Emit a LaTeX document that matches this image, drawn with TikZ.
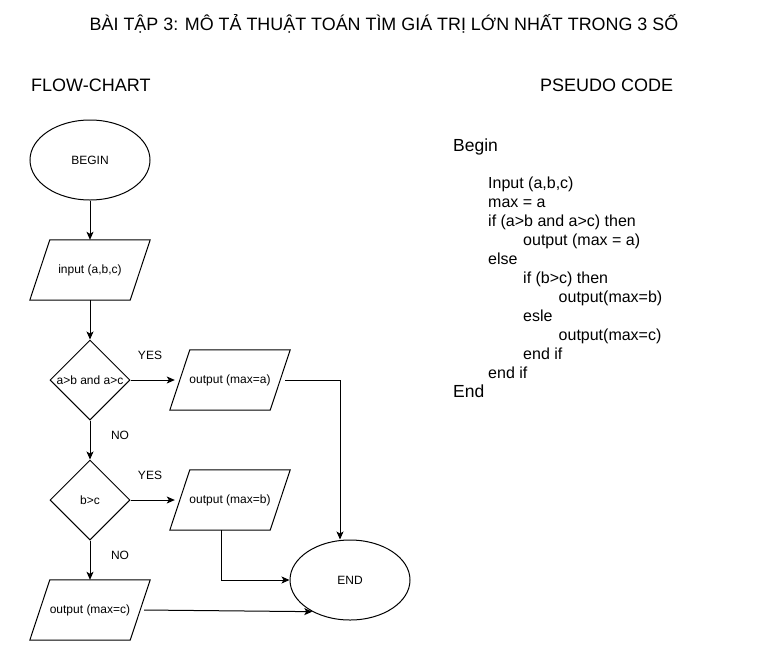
\documentclass[tikz,border=0pt]{standalone}
\usepackage{fontspec}
\setmainfont{Liberation Sans}
\usetikzlibrary{shapes.geometric,arrows.meta}
\begin{document}
\begin{tikzpicture}[x=1pt,y=-1pt,
  every node/.style={font=\fontsize{12}{14}\selectfont},
  term/.style={draw,ellipse,minimum width=120pt,minimum height=80pt,inner sep=0pt,line width=1pt},
  io/.style={rectangle,minimum width=120pt,minimum height=60pt,inner sep=0pt},
  iobox/.style={draw,line width=1pt,line join=miter},
  dec/.style={draw,diamond,minimum width=80pt,minimum height=80pt,inner sep=0pt,line width=1pt},
  flow/.style={line width=1pt,-{Stealth[length=8pt,width=7pt,inset=2pt]}},
  lbl/.style={inner sep=0pt},
  code/.style={anchor=base west,inner sep=0pt,font=\fontsize{16}{19}\selectfont},
  head/.style={anchor=base west,inner sep=0pt,font=\fontsize{18}{21}\selectfont}]
\useasboundingbox (0,0) rectangle (770,651);
\fill[white] (0,0) rectangle (770,651);

% headings
\node[anchor=base,inner sep=0pt,font=\fontsize{17.9}{21}\selectfont] (title) at (384,30.7) {BÀI TẬP 3: MÔ TẢ THUẬT TOÁN TÌM GIÁ TRỊ LỚN NHẤT TRONG 3 SỐ};
\node[head] (fc) at (31,91) {FLOW-CHART};
\node[head] (pc) at (540,91) {PSEUDO CODE};

% flowchart
\node[term] (begin) at (90,160) {BEGIN};
\node[io] (inp) at (90,270) {input (a,b,c)};
\node[dec] (d1) at (90,380) {\makebox[0pt]{a>b and a>c}};
\node[io] (outa) at (230,380) {output (max=a)};
\node[dec] (d2) at (90,500) {\makebox[0pt]{b>c}};
\node[io] (outb) at (230,500) {output (max=b)};
\node[io] (outc) at (90,610) {output (max=c)};
\node[term] (endn) at (350,580) {END};

\foreach \p in {inp,outa,outb,outc}
  \draw[iobox] ([xshift=20pt]\p.north west) -- (\p.north east) -- ([xshift=-20pt]\p.south east) -- (\p.south west) -- cycle;

\node[lbl] (yes1) at (150,355) {YES};
\node[lbl] (no1) at (120,435) {NO};
\node[lbl] (yes2) at (150,475) {YES};
\node[lbl] (no2) at (120,555) {NO};

\draw[flow] (begin) -- (inp.north);
\draw[flow] (inp.south) -- (d1.north);
\draw[flow] (d1.east) -- ([xshift=5pt]outa.west);
\draw[flow] (d1.south) -- (d2.north);
\draw[flow] (d2.east) -- ([xshift=5pt]outb.west);
\draw[flow] (d2.south) -- (outc.north);
\draw[flow] ([xshift=-5pt]outa.east) -| ([xshift=-10pt]endn.north);
\draw[flow] ([xshift=-9pt]outb.south) |- (endn.west);
\draw[flow] ([xshift=-6pt]outc.east) -- (endn.-140);

% pseudo code
\node[anchor=base west,inner sep=0pt,font=\fontsize{17.5}{20}\selectfont] (cbegin) at (453,151) {Begin};
\node[code] (c1) at (488,188.3) {Input (a,b,c)};
\node[code] (c2) at (488,207.3) {max = a};
\node[code] (c3) at (488,226.3) {if (a>b and a>c) then};
\node[code] (c4) at (523,245.3) {output (max = a)};
\node[code] (c5) at (488,264.3) {else};
\node[code] (c6) at (523,283.3) {if (b>c) then};
\node[code] (c7) at (558.5,302.3) {output(max=b)};
\node[code] (c8) at (523,321.3) {esle};
\node[code] (c9) at (558.5,340.3) {output(max=c)};
\node[code] (c10) at (523,359.3) {end if};
\node[code] (c11) at (488,378.3) {end if};
\node[anchor=base west,inner sep=0pt,font=\fontsize{17.5}{20}\selectfont] (cend) at (453,397.3) {End};
\end{tikzpicture}
\end{document}
